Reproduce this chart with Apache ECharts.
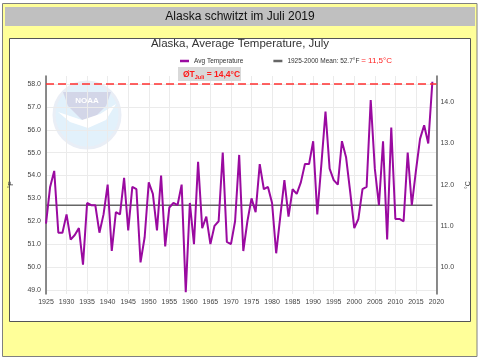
<!DOCTYPE html>
<html><head><meta charset="utf-8">
<script src="https://cdn.jsdelivr.net/npm/echarts@6/dist/echarts.min.js"></script>
<style>html,body{margin:0;padding:0;background:#fff}#c{width:480px;height:360px}</style>
</head><body><div id="c"></div>
<script>
const years = [1925,1926,1927,1928,1929,1930,1931,1932,1933,1934,1935,1936,1937,1938,1939,1940,1941,1942,1943,1944,1945,1946,1947,1948,1949,1950,1951,1952,1953,1954,1955,1956,1957,1958,1959,1960,1961,1962,1963,1964,1965,1966,1967,1968,1969,1970,1971,1972,1973,1974,1975,1976,1977,1978,1979,1980,1981,1982,1983,1984,1985,1986,1987,1988,1989,1990,1991,1992,1993,1994,1995,1996,1997,1998,1999,2000,2001,2002,2003,2004,2005,2006,2007,2008,2009,2010,2011,2012,2013,2014,2015,2016,2017,2018,2019];
const avgTempF = [51.9,53.5,54.2,51.5,51.5,52.3,51.2,51.4,51.7,50.1,52.8,52.7,52.7,51.5,52.3,53.6,50.7,52.4,52.3,53.9,51.6,53.5,53.4,50.2,51.3,53.7,53.2,51.6,54.0,50.9,52.6,52.8,52.7,53.6,48.9,52.8,51.0,54.6,51.7,52.2,51.0,51.8,52.0,55.0,51.1,51.0,52.0,54.9,50.7,52.0,53.0,52.4,54.5,53.4,53.5,52.8,50.6,52.2,53.8,52.2,53.4,53.2,53.7,54.5,54.5,55.5,52.3,54.5,56.8,54.3,53.8,53.6,55.5,54.8,53.3,51.7,52.1,53.4,53.5,57.3,54.3,52.7,55.5,51.2,56.1,52.1,52.1,52.0,55.0,52.7,54.2,55.6,56.2,55.4,58.1];
const meanYears = [1925, 2019];
const meanF = 52.7;
const julyMaxF = 58.0;
const fTicks = [49,50,51,52,53,54,55,56,57,58];
const cTicks = [10,11,12,13,14];
const xTicks = [1925,1930,1935,1940,1945,1950,1955,1960,1965,1970,1975,1980,1985,1990,1995,2000,2005,2010,2015,2020];
const seriesNames = ['Avg Temperature', '1925-2000 Mean: 52.7°F'];
const meanC = '= 11,5°C';
const mainTitle = 'Alaska, Average Temperature, July';
const bannerTitle = 'Alaska schwitzt im Juli 2019';

const fMin = 48.82, fMax = 58.35;
const FONT = 'Liberation Sans, Arial, sans-serif';
const chart = echarts.init(document.getElementById('c'), null, {renderer:'canvas'});
chart.setOption({
  animation:false,
  backgroundColor:'#ffffff',
  textStyle:{fontFamily:FONT},
  title:{text:mainTitle,left:'center',top:33,textStyle:{fontSize:11.5,fontWeight:'normal',color:'#333',fontFamily:FONT}},
  legend:{left:175,top:52,icon:'rect',itemWidth:9,itemHeight:2.5,itemGap:30,itemStyle:{borderWidth:0},
    data:seriesNames,
    textStyle:{fontSize:6.5,color:'#333',fontFamily:FONT,
      rich:{a:{fontSize:6.5,color:'#333',fontFamily:FONT},r:{fontSize:8,color:'#ff2222',fontFamily:FONT}}},
    formatter:function(n){return n===seriesNames[1]?'{a|'+n+'} {r|'+meanC+'}':n;}},
  grid:{left:45,right:41,top:76,bottom:66,containLabel:false},
  xAxis:{type:'value',min:1925,max:2020,interval:5,
    axisLine:{show:false},axisTick:{show:false},
    axisLabel:{fontSize:7,color:'#444',margin:5,formatter:function(v){return String(v);}},
    splitLine:{show:true,lineStyle:{color:'#ebebeb',width:1}}},
  yAxis:[
    {type:'value',min:fMin,max:fMax,position:'left',
     name:'°F',nameLocation:'middle',nameGap:31,nameTextStyle:{fontSize:7,color:'#444'},
     axisLine:{show:true,lineStyle:{color:'#666',width:1.5}},
     axisTick:{show:false,customValues:fTicks},
     axisLabel:{customValues:fTicks,fontSize:7,color:'#444',margin:5,formatter:function(v){return v.toFixed(1);}},
     splitLine:{show:true,lineStyle:{color:'#ebebeb',width:1}}},
    {type:'value',min:(fMin-32)/1.8,max:(fMax-32)/1.8,position:'right',
     name:'°C',nameLocation:'middle',nameGap:27,nameTextStyle:{fontSize:7,color:'#444'},
     axisLine:{show:true,lineStyle:{color:'#666',width:1.5}},
     axisTick:{show:false,customValues:cTicks},
     axisLabel:{customValues:cTicks,fontSize:7,color:'#444',margin:4,formatter:function(v){return v.toFixed(1);}},
     splitLine:{show:false}}
  ],
  series:[
    {name:seriesNames[0],type:'line',yAxisIndex:0,z:4,showSymbol:false,symbol:'none',
     data:years.map(function(y,i){return [y,avgTempF[i]];}),
     lineStyle:{color:'#9a0aa0',width:2},itemStyle:{color:'#9a0aa0'},
     markLine:{silent:true,symbol:['none','none'],label:{show:false},
       lineStyle:{color:'#ff3030',type:[8,4],width:1.5},data:[{yAxis:julyMaxF}]}},
    {name:seriesNames[1],type:'line',yAxisIndex:0,z:3,showSymbol:false,symbol:'none',
     data:meanYears.map(function(y){return [y,meanF];}),
     lineStyle:{color:'#666',width:1.5},itemStyle:{color:'#666'}}
  ],
  graphic:[
    {type:'rect',z:-20,silent:true,shape:{x:2.5,y:3.5,width:474.5,height:353},style:{fill:'#ffff99',stroke:'#808080',lineWidth:1}},
    {type:'rect',z:-19,silent:true,shape:{x:5,y:7,width:470,height:19},style:{fill:'#c0c0c0'}},
    {type:'text',z:-18,silent:true,x:240,y:17,style:{text:bannerTitle,fontSize:12,fontFamily:FONT,fill:'#111',align:'center',verticalAlign:'middle'}},
    {type:'rect',z:-17,silent:true,shape:{x:9.5,y:38.5,width:461,height:283},style:{fill:'#fff',stroke:'#555',lineWidth:1}},
    {type:'circle',z:-16,silent:true,shape:{cx:87,cy:115,r:33},style:{fill:'#e2f1fb',stroke:'#e9eef6',lineWidth:3}},
    {type:'polygon',z:-15,silent:true,shape:{points:[[63,92],[111,92],[106,106],[94,118],[87,124],[80,118],[68,106]]},style:{fill:'#d3d6e8'}},
    {type:'polygon',z:-15,silent:true,shape:{points:[[58,112],[82,120],[100,114],[116,104],[106,120],[88,128],[70,122]]},style:{fill:'#ffffff'}},
    {type:'text',z:-14,silent:true,x:87,y:101,style:{text:'NOAA',fontSize:8,fontWeight:'bold',fontFamily:FONT,fill:'#ffffff',align:'center',verticalAlign:'middle'}},
    {type:'group',z:100,x:178,y:67,children:[
      {type:'rect',z:100,shape:{x:0,y:0,width:63,height:14},style:{fill:'#d9d9d9'}},
      {type:'text',z:101,x:5,y:2,style:{text:'{b|ØT}{s|Juli}{b| = 14,4°C}',
        rich:{b:{fontSize:8.5,fontWeight:'bold',fill:'#ff1a1a',fontFamily:FONT,lineHeight:11},
              s:{fontSize:5.5,fontWeight:'bold',fill:'#ff1a1a',fontFamily:FONT,lineHeight:5,verticalAlign:'bottom'}}}}
    ]}
  ]
});
</script></body></html>
